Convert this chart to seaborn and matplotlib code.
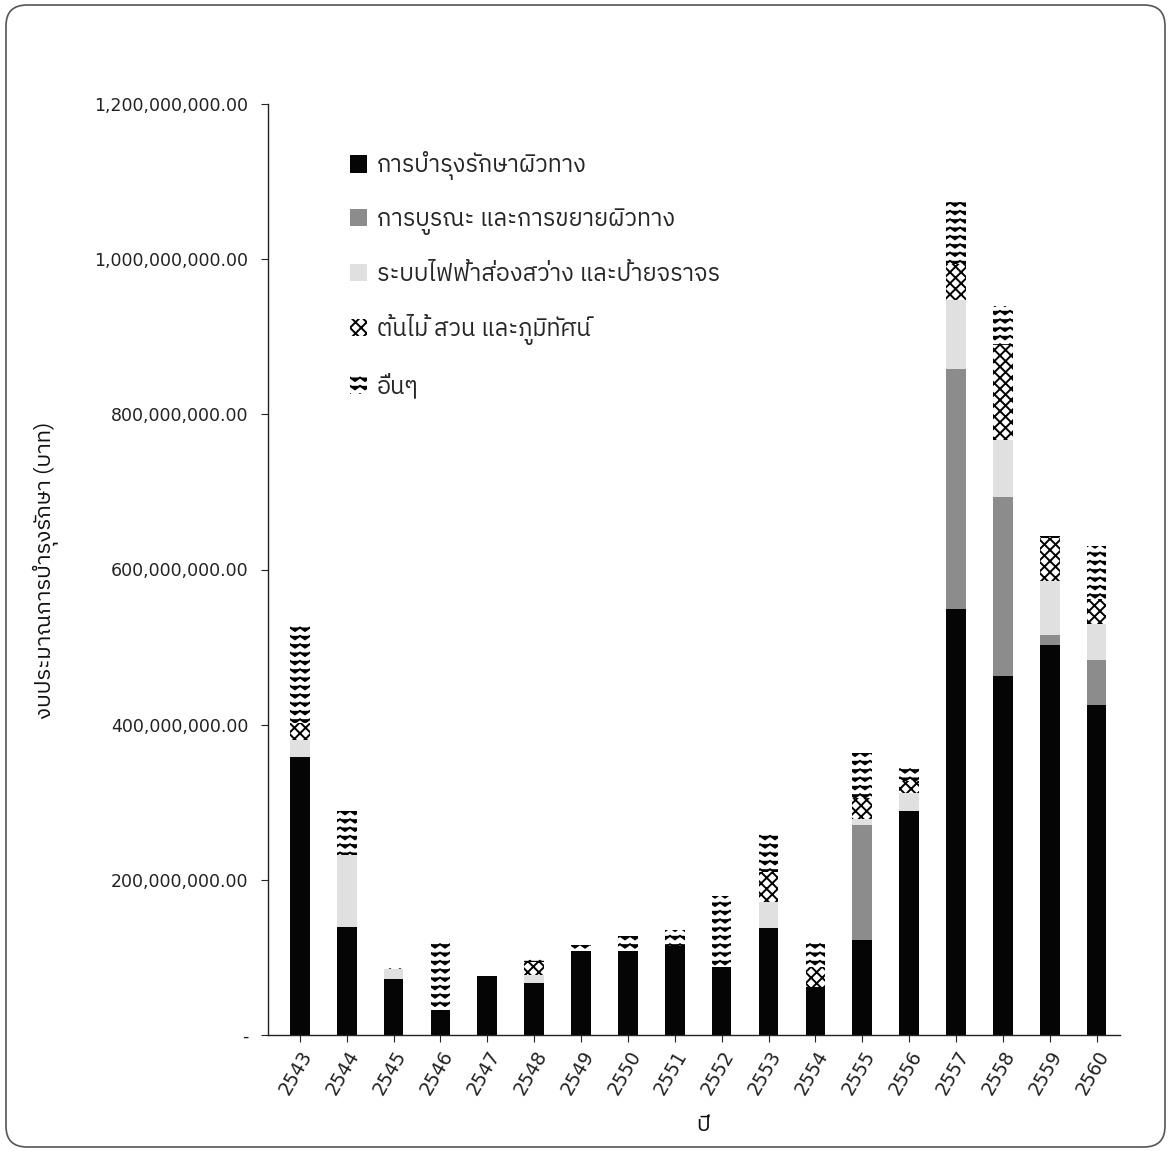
import warnings
import numpy as np
import pandas as pd
import matplotlib
matplotlib.use("Agg")
import matplotlib.pyplot as plt
from matplotlib import font_manager, ft2font
from matplotlib import hatch as mhatch
from matplotlib.path import Path
from matplotlib.patches import Patch, FancyBboxPatch
from matplotlib.ticker import FuncFormatter
import seaborn as sns

warnings.filterwarnings("ignore")

# ---------------------------------------------------------------- data
years = [str(y) for y in range(2543, 2561)]
# road maintenance budget by category, million baht
maintenance = [358, 139, 72, 32, 76, 67, 108, 108, 115, 88, 138, 62, 122, 289, 549, 463, 503, 425]
renovation = [0, 0, 0, 0, 0, 0, 0, 0, 0, 0, 0, 0, 149, 0, 310, 231, 12, 58]
lighting = [22, 93, 13, 0, 0, 10, 0, 0, 0, 0, 33, 0, 8, 23, 88, 73, 70, 47]
landscape = [22, 0, 0, 0, 0, 17, 0, 0, 0, 0, 39, 26, 26, 15, 47, 122, 56, 32]
others = [128, 57, 3, 86, 0, 4, 8, 20, 20, 91, 50, 33, 58, 18, 80, 50, 2, 68]

series_names = [
    "การบำรุงรักษาผิวทาง",
    "การบูรณะ และการขยายผิวทาง",
    "ระบบไฟฟ้าส่องสว่าง และป้ายจราจร",
    "ต้นไม้ สวน และภูมิทัศน์",
    "อื่นๆ",
]
y_title = "งบประมาณการบำรุงรักษา (บาท)"
x_title = "ปี"


# ---------------------------------------------------------------- fonts
def find_thai_family():
    preferred = ["Thai", "Sarabun", "Loma", "Garuda", "Tlwg", "Kinnari", "Norasi", "Waree"]
    covering = []
    for f in font_manager.fontManager.ttflist:
        try:
            cmap = ft2font.FT2Font(f.fname).get_charmap()
        except Exception:
            continue
        if 0x0E01 in cmap and 0x0E32 in cmap and 0x0E49 in cmap:
            covering.append(f.name)
    for key in preferred:
        for name in covering:
            if key.lower() in name.lower():
                return name
    return covering[0] if covering else None


sns.set_style("ticks")
thai = find_thai_family()
thai_fam = [thai, "DejaVu Sans"] if thai else ["DejaVu Sans"]
plt.rcParams["font.family"] = ["DejaVu Sans"]
plt.rcParams["hatch.linewidth"] = 1.4
plt.rcParams["hatch.color"] = "black"


# ---------------------------------------------------------------- zigzag hatch ('z')
class ZigZagHatch(mhatch.HatchPatternBase):
    def __init__(self, hatch, density):
        self.rows = hatch.count("z") * density
        self.peaks = int(round(self.rows * 0.85))
        self.num_vertices = self.rows * (2 * self.peaks + 1) if self.rows else 0

    def set_vertices_and_codes(self, vertices, codes):
        n = 2 * self.peaks + 1
        amp = 0.42 / self.rows
        xs = np.linspace(0.0, 1.0, n)
        odd = (np.arange(n) % 2 == 1)
        k = 0
        for i in range(self.rows):
            y0 = (i + 0.7) / self.rows
            vertices[k:k + n, 0] = xs
            vertices[k:k + n, 1] = y0 - odd * amp
            codes[k] = Path.MOVETO
            codes[k + 1:k + n] = Path.LINETO
            k += n


mhatch._hatch_types.append(ZigZagHatch)

# ---------------------------------------------------------------- table
layers = np.array([maintenance, renovation, lighting, landscape, others], dtype=float) * 1e6
cumulative = np.cumsum(layers, axis=0)
df = pd.DataFrame({"year": years})
for i in range(len(series_names)):
    df[f"cum{i}"] = cumulative[i]

styles = [
    dict(color="#050505", hatch=None),
    dict(color="#8c8c8c", hatch=None),
    dict(color="#e0e0e0", hatch=None),
    dict(color="white", hatch="xxx"),
    dict(color="white", hatch="zz"),
]

# ---------------------------------------------------------------- figure
fig = plt.figure(figsize=(11.71, 11.51), dpi=100)
ax = fig.add_axes([268 / 1171, 1 - 1035 / 1151, (1120 - 268) / 1171, (1035 - 104) / 1151])

# draw cumulative totals from the top layer down so each lower layer covers the rest
for i in reversed(range(len(series_names))):
    st = styles[i]
    sns.barplot(data=df, x="year", y=f"cum{i}", color=st["color"], saturation=1,
                width=0.42, errorbar=None, hatch=st["hatch"], edgecolor="black",
                linewidth=0, ax=ax)

ax.set_xlim(-0.68, 17.5)
ax.set_ylim(0, 1.2e9)
ax.set_yticks(np.arange(0, 1.2e9 + 1, 2e8))
ax.yaxis.set_major_formatter(FuncFormatter(lambda v, p: "-" if v == 0 else f"{v:,.2f}"))
ax.set_xlabel("")
ax.set_ylabel("")
sns.despine(ax=ax)
for s in ("left", "bottom"):
    ax.spines[s].set_linewidth(1.0)
    ax.spines[s].set_color("#222222")
ax.tick_params(axis="both", direction="out", length=5, width=0.8, colors="#222222")
ax.tick_params(axis="y", labelsize=12.5, pad=9)
ax.tick_params(axis="x", labelsize=13.5, pad=4)
for lab in ax.get_xticklabels():
    lab.set_rotation(60)
    lab.set_ha("right")
    lab.set_va("top")
    lab.set_rotation_mode("anchor")

fig.text(45 / 1171, 1 - 570 / 1151, y_title, rotation=90, ha="center", va="center",
         fontsize=16, family=thai_fam, color="#111111")
fig.text(703 / 1171, 1 - 1125 / 1151, x_title, ha="center", va="center",
         fontsize=16, family=thai_fam, color="#111111")

handles = [Patch(facecolor=st["color"], hatch=st["hatch"], edgecolor="black", linewidth=0)
           for st in styles]
leg = ax.legend(handles, series_names, loc="upper left", bbox_to_anchor=(0.082, 0.962),
                frameon=False, borderpad=0, handlelength=0.75, handleheight=0.75,
                handletextpad=0.4, labelspacing=1.18, prop={"family": thai_fam, "size": 17})

# rounded outer frame
frame = FancyBboxPatch((6 / 1171, 4 / 1151), 1 - 12 / 1171, 1 - 9 / 1151,
                       boxstyle="round,pad=0,rounding_size=0.018", transform=fig.transFigure,
                       facecolor="none", edgecolor="#555555", linewidth=1.2, zorder=-1)
fig.patches.append(frame)

fig.savefig("out.png", dpi=100)
